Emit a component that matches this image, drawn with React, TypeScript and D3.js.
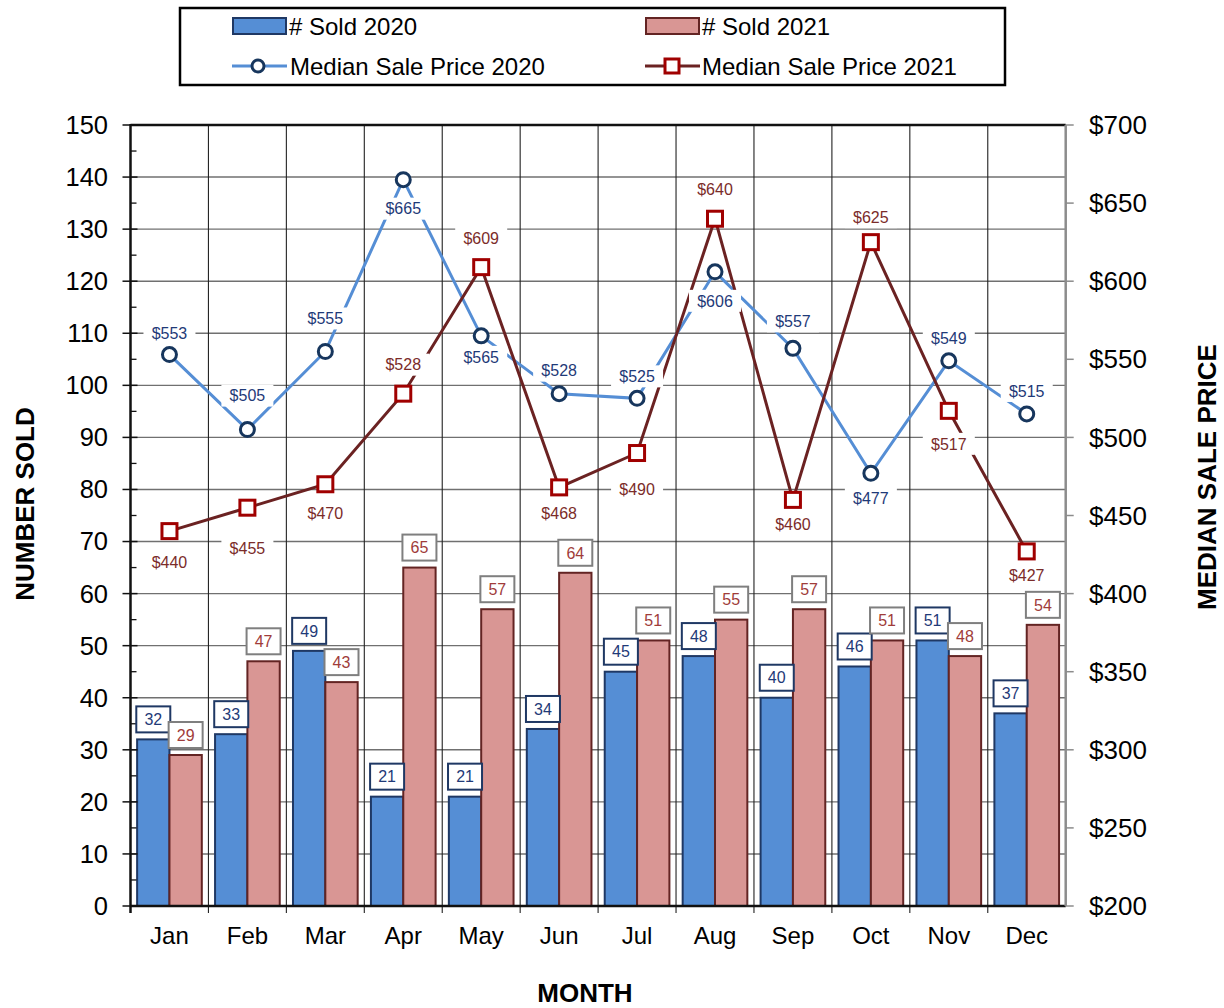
import React from 'react';
import * as d3 from 'd3';

const months = ['Jan', 'Feb', 'Mar', 'Apr', 'May', 'Jun', 'Jul', 'Aug', 'Sep', 'Oct', 'Nov', 'Dec'];
const sold2020 = [32, 33, 49, 21, 21, 34, 45, 48, 40, 46, 51, 37];
const sold2021 = [29, 47, 43, 65, 57, 64, 51, 55, 57, 51, 48, 54];
const price2020 = [553, 505, 555, 665, 565, 528, 525, 606, 557, 477, 549, 515];
const price2021 = [440, 455, 470, 528, 609, 468, 490, 640, 460, 625, 517, 427];
const leftTicks = [0, 10, 20, 30, 40, 50, 60, 70, 80, 90, 100, 110, 120, 130, 140, 150];
const rightTicks = [200, 250, 300, 350, 400, 450, 500, 550, 600, 650, 700];

// label placement (vertical offset of the label centre from its point)
const label2020Offset = [-21, -34, -33, 29, 21, -23, -22, 29, -27, 25, -23, -23];
const label2021Offset = [31, 41, 29, -29, -29, 26, 36, -29, 24, -25, 33, 24];

const W = 1224, H = 1008;
const L = 130.5, R = 1065.7, T = 125, B = 906;
const FONT = 'Liberation Sans, Arial, sans-serif';

export default function App() {
  const x = d3.scaleBand<string>().domain(months).range([L, R]).paddingInner(0).paddingOuter(0);
  const yL = d3.scaleLinear().domain([0, 150]).range([B, T]);
  const yR = d3.scaleLinear().domain([200, 700]).range([B, T]);
  const bw = x.bandwidth();
  const barW = bw * 0.415;
  const pad = (bw - 2 * barW) / 2;
  const cx = (m: string) => (x(m) as number) + bw / 2;

  const line2020 = d3.line<number>().x((_, i) => cx(months[i])).y(d => yR(d));
  const line2021 = d3.line<number>().x((_, i) => cx(months[i])).y(d => yR(d));

  const blueFill = '#558ed5', blueStroke = '#1f3864';
  const pinkFill = '#d99694', pinkStroke = '#632423';
  const line20 = '#558ed5', line21 = '#6b2222';
  const text20 = '#1f3a78', text21 = '#a03c3a';

  const minorLeft = d3.range(5, 150, 10);

  return (
    <svg width={W} height={H} style={{ position: 'absolute', left: 0, top: 0, background: '#fff' }} fontFamily={FONT}>
      <rect x={0} y={0} width={W} height={H} fill="#fff" />
      {/* horizontal grid */}
      {leftTicks.slice(1, -1).map(t => (
        <line key={'h' + t} x1={L} x2={R} y1={yL(t)} y2={yL(t)} stroke="#707070" strokeWidth={1.4} />
      ))}
      {/* vertical grid at band boundaries */}
      {months.slice(1).map(m => (
        <line key={'v' + m} x1={x(m)} x2={x(m)} y1={T} y2={B + 7} stroke="#222" strokeWidth={1.1} />
      ))}
      {/* top border */}
      <line x1={L} x2={R} y1={T} y2={T} stroke="#111" strokeWidth={2.5} />

      {/* bars */}
      {months.map((m, i) => (
        <g key={'b' + m}>
          <rect x={(x(m) as number) + pad} y={yL(sold2020[i])} width={barW} height={B - yL(sold2020[i])}
            fill={blueFill} stroke={blueStroke} strokeWidth={2} />
          <rect x={(x(m) as number) + pad + barW} y={yL(sold2021[i])} width={barW} height={B - yL(sold2021[i])}
            fill={pinkFill} stroke={pinkStroke} strokeWidth={2} />
        </g>
      ))}

      {/* left axis */}
      <line x1={L} x2={L} y1={T - 1} y2={B + 7} stroke="#111" strokeWidth={2.5} />
      {leftTicks.map(t => (
        <g key={'lt' + t}>
          <line x1={L - 8} x2={L + 7} y1={yL(t)} y2={yL(t)} stroke="#111" strokeWidth={1.5} />
          <text x={108} y={yL(t)} dy="0.35em" textAnchor="end" fontSize={25.5} fill="#000">{t}</text>
        </g>
      ))}
      {minorLeft.map(t => (
        <line key={'ml' + t} x1={L} x2={L + 6} y1={yL(t)} y2={yL(t)} stroke="#111" strokeWidth={1.3} />
      ))}
      {/* bottom axis */}
      <line x1={L} x2={R} y1={B} y2={B} stroke="#111" strokeWidth={2.5} />
      {months.map(m => (
        <text key={'mx' + m} x={cx(m)} y={944} textAnchor="middle" fontSize={24} fill="#000">{m}</text>
      ))}
      {/* right axis */}
      <line x1={R} x2={R} y1={T} y2={B} stroke="#8c8c8c" strokeWidth={2.5} />
      {rightTicks.map(t => (
        <g key={'rt' + t}>
          <line x1={R} x2={R + 8} y1={yR(t)} y2={yR(t)} stroke="#8c8c8c" strokeWidth={1.5} />
          <text x={1089} y={yR(t)} dy="0.35em" textAnchor="start" fontSize={26} fill="#000">{'$' + t}</text>
        </g>
      ))}

      {/* bar labels */}
      {months.map((m, i) => {
        const x1 = (x(m) as number) + pad + barW / 2;
        const x2 = x1 + barW;
        const y1 = yL(sold2020[i]) - 20;
        const y2 = yL(sold2021[i]) - 20;
        return (
          <g key={'bl' + m}>
            <rect x={x1 - 17} y={y1 - 13} width={34} height={26} fill="#fff" stroke={blueStroke} strokeWidth={2} />
            <text x={x1} y={y1} dy="0.36em" textAnchor="middle" fontSize={16} fill={text20}>{sold2020[i]}</text>
            <rect x={x2 - 17} y={y2 - 13} width={34} height={26} fill="#fff" stroke="#7f7f7f" strokeWidth={2} />
            <text x={x2} y={y2} dy="0.36em" textAnchor="middle" fontSize={16} fill={text21}>{sold2021[i]}</text>
          </g>
        );
      })}

      {/* lines */}
      <path d={line2020(price2020) || ''} fill="none" stroke={line20} strokeWidth={3} />
      <path d={line2021(price2021) || ''} fill="none" stroke={line21} strokeWidth={3} />
      {months.map((m, i) => (
        <circle key={'c' + m} cx={cx(m)} cy={yR(price2020[i])} r={7} fill="#fff" stroke="#17365d" strokeWidth={3} />
      ))}
      {months.map((m, i) => (
        <rect key={'s' + m} x={cx(m) - 7.5} y={yR(price2021[i]) - 7.5} width={15} height={15} fill="#fff" stroke="#a00000" strokeWidth={3} />
      ))}

      {/* price labels */}
      {months.map((m, i) => {
        const ly = yR(price2020[i]) + label2020Offset[i];
        return (
          <g key={'pl20' + m}>
            <rect x={cx(m) - 26} y={ly - 11} width={52} height={22} fill="#fff" />
            <text x={cx(m)} y={ly} dy="0.36em" textAnchor="middle" fontSize={16} fill={text20}>{'$' + price2020[i]}</text>
          </g>
        );
      })}
      {months.map((m, i) => {
        const ly = yR(price2021[i]) + label2021Offset[i];
        return (
          <g key={'pl21' + m}>
            <rect x={cx(m) - 26} y={ly - 11} width={52} height={22} fill="#fff" />
            <text x={cx(m)} y={ly} dy="0.36em" textAnchor="middle" fontSize={16} fill="#7b2c2a">{'$' + price2021[i]}</text>
          </g>
        );
      })}

      {/* axis titles */}
      <text transform="translate(34,504) rotate(-90)" textAnchor="middle" fontSize={26} fontWeight="bold" fill="#000">NUMBER SOLD</text>
      <text transform="translate(1216,477) rotate(-90)" textAnchor="middle" fontSize={26} fontWeight="bold" fill="#000">MEDIAN SALE PRICE</text>
      <text x={585} y={1002} textAnchor="middle" fontSize={26} fontWeight="bold" fill="#000">MONTH</text>

      {/* legend */}
      <rect x={180} y={8} width={825} height={77} fill="#fff" stroke="#000" strokeWidth={2.5} />
      <rect x={233} y={18} width={53} height={16} fill={blueFill} stroke={blueStroke} strokeWidth={2} />
      <text x={289} y={35} fontSize={24} fill="#000"># Sold 2020</text>
      <rect x={646} y={18} width={53} height={16} fill={pinkFill} stroke={pinkStroke} strokeWidth={2} />
      <text x={702} y={35} fontSize={24} fill="#000"># Sold 2021</text>
      <line x1={232} x2={287} y1={66} y2={66} stroke={line20} strokeWidth={3} />
      <circle cx={258} cy={66} r={6} fill="#fff" stroke="#17365d" strokeWidth={3} />
      <text x={290} y={75} fontSize={24} fill="#000">Median Sale Price 2020</text>
      <line x1={645} x2={700} y1={66} y2={66} stroke={line21} strokeWidth={3} />
      <rect x={665} y={59} width={14} height={14} fill="#fff" stroke="#a00000" strokeWidth={3} />
      <text x={702} y={75} fontSize={24} fill="#000">Median Sale Price 2021</text>
    </svg>
  );
}
